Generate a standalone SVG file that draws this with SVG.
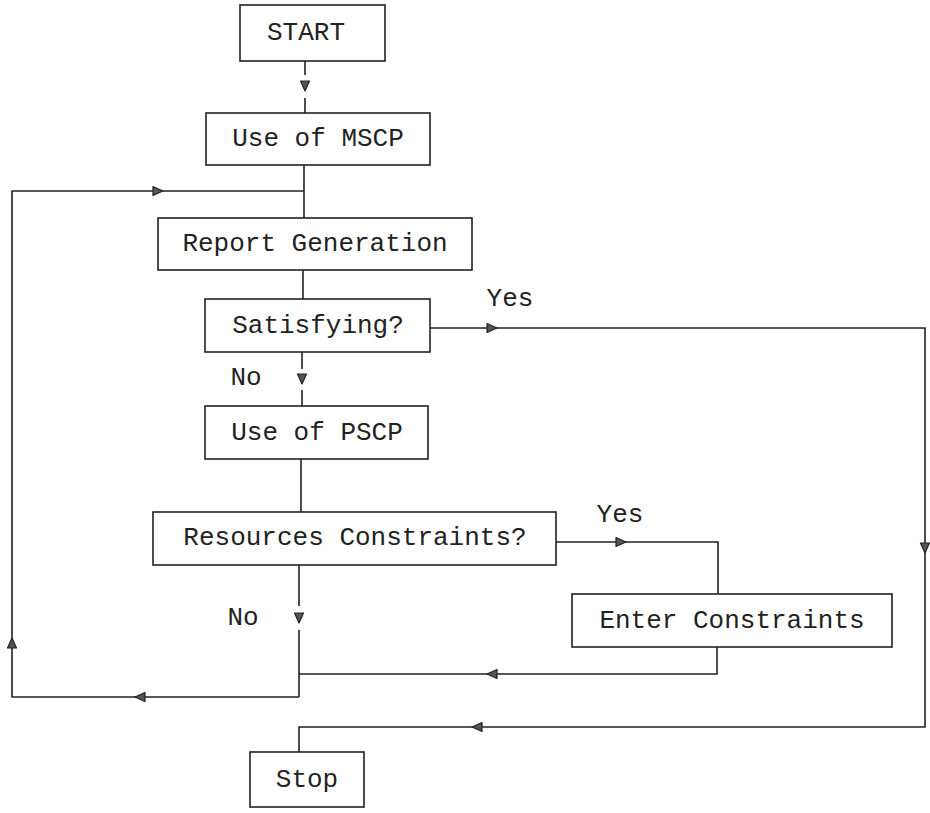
<svg xmlns="http://www.w3.org/2000/svg" width="930" height="813" viewBox="0 0 930 813">
<defs>
<style>
.box{fill:#fff;stroke:#222;stroke-width:1.6}
.lbl{font-family:"Liberation Mono","DejaVu Sans Mono",monospace;font-size:26px;fill:#222;text-anchor:middle;dominant-baseline:central}
.ln{fill:none;stroke:#222;stroke-width:1.6}
.ah{fill:#555;stroke:#222;stroke-width:1.2;stroke-linejoin:round}
</style>
<path id="tri" class="ah" d="M-5,-4.5 L5,0 L-5,4.5 Z"/>
</defs>
<rect width="930" height="813" fill="#fff"/>

<g id="connectors">
  <path class="ln" d="M305,61 V75 M305,98 V113"/>
  <use href="#tri" transform="translate(305,86) rotate(90)"/>
  <path class="ln" d="M304,165 V218 M304,191 H12 V697 H299"/>
  <use href="#tri" transform="translate(158,191)"/>
  <use href="#tri" transform="translate(12,643) rotate(-90)"/>
  <use href="#tri" transform="translate(140,697) rotate(180)"/>
  <path class="ln" d="M303,270 V299"/>
  <path class="ln" d="M302,352 V369 M302,390 V406"/>
  <use href="#tri" transform="translate(302,379) rotate(90)"/>
  <path class="ln" d="M430,328 H925 V727 H299 V752"/>
  <use href="#tri" transform="translate(492,328)"/>
  <use href="#tri" transform="translate(925,548) rotate(90)"/>
  <use href="#tri" transform="translate(477,727) rotate(180)"/>
  <path class="ln" d="M301,459 V512"/>
  <path class="ln" d="M556,542 H718 V594"/>
  <use href="#tri" transform="translate(621,542)"/>
  <path class="ln" d="M717,647 V674 H299"/>
  <use href="#tri" transform="translate(492,674) rotate(180)"/>
  <path class="ln" d="M299,565 V606 M299,630 V697"/>
  <use href="#tri" transform="translate(299,618) rotate(90)"/>
</g>

<g id="labels">
  <text class="lbl" x="510" y="299">Yes</text>
  <text class="lbl" x="246" y="378">No</text>
  <text class="lbl" x="620" y="515">Yes</text>
  <text class="lbl" x="243" y="618">No</text>
</g>

<g id="start"><rect class="box" x="240" y="5" width="145" height="56"/><text class="lbl" x="306" y="33">START</text></g>
<g id="mscp"><rect class="box" x="206" y="113" width="224" height="52"/><text class="lbl" x="318" y="139">Use of MSCP</text></g>
<g id="report"><rect class="box" x="158" y="218" width="314" height="52"/><text class="lbl" x="315" y="244">Report Generation</text></g>
<g id="satisfying"><rect class="box" x="205" y="299" width="225" height="53"/><text class="lbl" x="318" y="326">Satisfying?</text></g>
<g id="pscp"><rect class="box" x="205" y="406" width="223" height="53"/><text class="lbl" x="317" y="433">Use of PSCP</text></g>
<g id="resources"><rect class="box" x="153" y="512" width="403" height="53"/><text class="lbl" x="355" y="538">Resources Constraints?</text></g>
<g id="enter"><rect class="box" x="572" y="594" width="320" height="53"/><text class="lbl" x="732" y="621">Enter Constraints</text></g>
<g id="stop"><rect class="box" x="250" y="752" width="114" height="55"/><text class="lbl" x="307" y="780">Stop</text></g>
</svg>
